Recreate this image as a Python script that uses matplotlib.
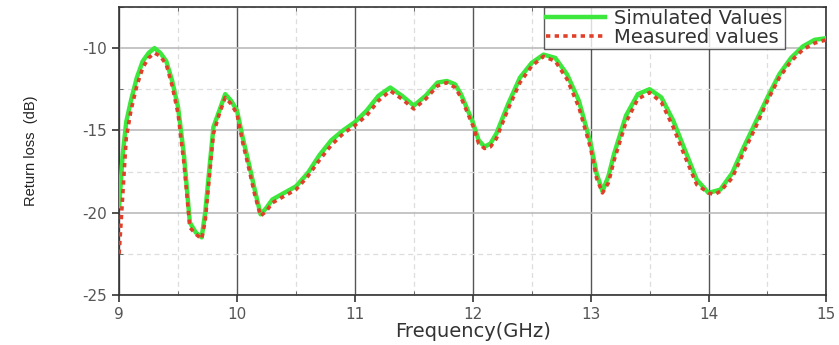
import matplotlib.pyplot as plt
import numpy as np
from matplotlib.ticker import MultipleLocator

plt.rcParams["axes.unicode_minus"] = False

# simulated curve
sim_f = [9.0, 9.03, 9.06, 9.1, 9.15, 9.2, 9.25, 9.3, 9.35, 9.4, 9.45, 9.5, 9.55, 9.6,
         9.65, 9.7, 9.73, 9.77, 9.8, 9.85, 9.9, 9.95, 10.0, 10.05, 10.1, 10.15, 10.2,
         10.25, 10.3, 10.4, 10.5, 10.6, 10.7, 10.8, 10.9, 11.0, 11.1, 11.2, 11.3, 11.4,
         11.5, 11.6, 11.7, 11.78, 11.85, 11.9, 12.0, 12.05, 12.1, 12.15, 12.2, 12.3,
         12.4, 12.5, 12.6, 12.7, 12.8, 12.9, 13.0, 13.05, 13.1, 13.15, 13.2, 13.3,
         13.4, 13.5, 13.6, 13.7, 13.8, 13.9, 14.0, 14.1, 14.2, 14.3, 14.4, 14.5, 14.6,
         14.7, 14.8, 14.9, 15.0]
sim_db = [-19.6, -16.5, -14.5, -13.2, -11.8, -10.8, -10.3, -10.0, -10.3, -10.8, -12.0,
          -13.6, -16.5, -20.6, -21.2, -21.5, -20.0, -17.0, -14.8, -13.8, -12.8, -13.2,
          -13.8, -15.5, -17.0, -18.6, -20.1, -19.7, -19.2, -18.8, -18.4, -17.6, -16.5,
          -15.6, -15.0, -14.5, -13.8, -12.9, -12.4, -12.9, -13.5, -12.9, -12.1, -12.0,
          -12.2, -12.8, -14.5, -15.6, -16.0, -15.8, -15.2, -13.4, -11.8, -10.9, -10.4,
          -10.6, -11.6, -13.2, -15.8, -17.6, -18.7, -17.8, -16.4, -14.1, -12.8, -12.5,
          -13.0, -14.4, -16.2, -18.0, -18.8, -18.6, -17.6, -16.0, -14.5, -13.0, -11.6,
          -10.6, -9.9, -9.5, -9.4]

# measured curve
meas_f = [9.0, 9.03, 9.06, 9.1, 9.15, 9.2, 9.25, 9.3, 9.35, 9.4, 9.45, 9.5, 9.55, 9.6,
          9.65, 9.7, 9.73, 9.77, 9.8, 9.85, 9.9, 9.95, 10.0, 10.05, 10.1, 10.15, 10.2,
          10.25, 10.3, 10.4, 10.5, 10.6, 10.7, 10.8, 10.9, 11.0, 11.1, 11.2, 11.3, 11.4,
          11.5, 11.6, 11.7, 11.78, 11.85, 11.9, 12.0, 12.05, 12.1, 12.15, 12.2, 12.3,
          12.4, 12.5, 12.6, 12.7, 12.8, 12.9, 13.0, 13.05, 13.1, 13.15, 13.2, 13.3,
          13.4, 13.5, 13.6, 13.7, 13.8, 13.9, 14.0, 14.05, 14.1, 14.2, 14.3, 14.4, 14.5,
          14.6, 14.7, 14.8, 14.9, 15.0]
meas_db = [-22.5, -19.0, -15.5, -13.8, -12.3, -11.2, -10.6, -10.3, -10.5, -11.0, -12.3,
           -14.0, -17.0, -20.9, -21.3, -21.6, -20.5, -17.5, -15.2, -14.0, -13.0, -13.4,
           -14.0, -15.8, -17.3, -18.9, -20.2, -19.9, -19.4, -19.0, -18.6, -17.8, -16.8,
           -15.9, -15.2, -14.7, -14.1, -13.2, -12.6, -13.1, -13.7, -13.1, -12.3, -12.1,
           -12.4, -13.0, -14.7, -15.8, -16.1, -16.0, -15.5, -13.7, -12.1, -11.1, -10.5,
           -10.8, -11.9, -13.6, -16.1, -17.9, -18.8, -18.2, -16.8, -14.5, -13.1, -12.7,
           -13.3, -14.8, -16.6, -18.3, -18.8, -18.9, -18.7, -17.9, -16.3, -14.8, -13.2,
           -11.8, -10.8, -10.1, -9.7, -9.5]

x_ticks = [9, 10, 11, 12, 13, 14, 15]
y_ticks = [-25, -20, -15, -10]

fig = plt.figure(figsize=(8.39, 3.45), dpi=100)
ax = fig.add_axes([0.142, 0.145, 0.843, 0.835])

ax.plot(sim_f, sim_db, color="#3de83d", lw=3.2, label="Simulated Values", zorder=3)
ax.plot(meas_f, meas_db, color="#e0402a", lw=2.6, ls=(0, (1.2, 1.2)),
        label="Measured values", zorder=4)

ax.set_xlim(9, 15)
ax.set_ylim(-25, -7.5)
ax.set_xticks(x_ticks)
ax.set_yticks(y_ticks)
ax.xaxis.set_minor_locator(MultipleLocator(0.5))
ax.yaxis.set_minor_locator(MultipleLocator(2.5))

ax.grid(True, which="major", axis="x", color="#555555", lw=1.0)
ax.grid(True, which="major", axis="y", color="#bbbbbb", lw=1.2)
ax.grid(True, which="minor", color="#dddddd", lw=0.9, ls=(0, (4, 3)))
ax.set_axisbelow(True)

ax.tick_params(which="major", direction="out", length=5, width=1.2,
               labelsize=11, labelcolor="#555555", color="#333333")
ax.tick_params(which="minor", direction="in", length=3, top=True, right=True,
               color="#555555")
for s in ax.spines.values():
    s.set_color("#333333")
    s.set_linewidth(1.2)

ax.set_xlabel("Frequency(GHz)", fontsize=14, color="#333333", labelpad=0)
ax.set_ylabel("Return loss  (dB)", fontsize=10.5, color="#222222", labelpad=32,
              family="Liberation Sans")

leg = ax.legend(loc="upper right", bbox_to_anchor=(0.941, 1.0), fontsize=14,
                frameon=True, fancybox=False, borderpad=0.1, labelspacing=0.0,
                handlelength=3.0, handletextpad=0.5, borderaxespad=0.0)
leg.get_frame().set_edgecolor("#333333")
leg.get_frame().set_linewidth(1.0)
for t in leg.get_texts():
    t.set_color("#333333")

fig.savefig("out.png", dpi=100)
